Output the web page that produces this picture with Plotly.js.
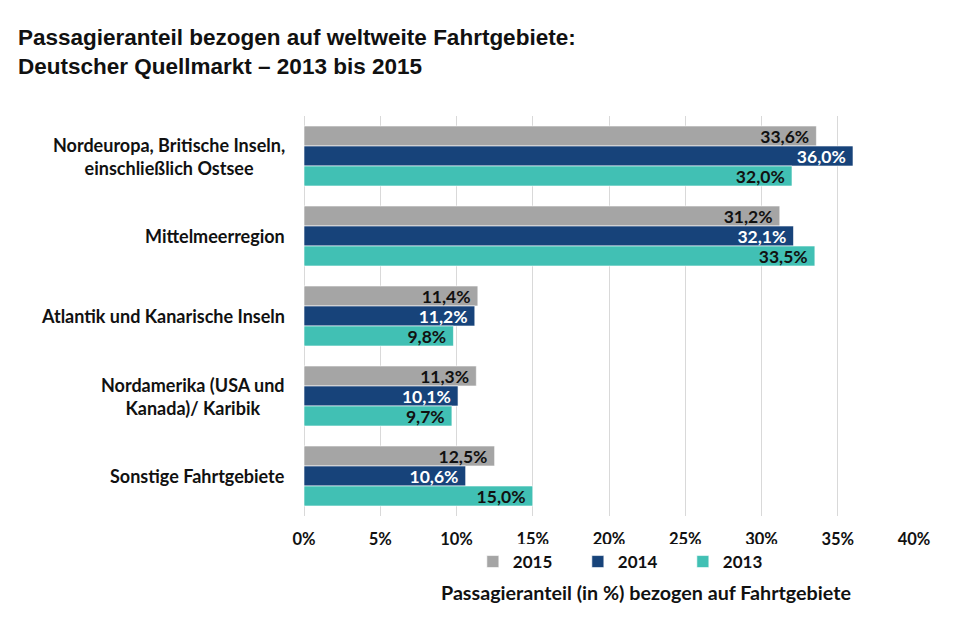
<!DOCTYPE html>
<html>
<head>
<meta charset="utf-8">
<script src="https://cdn.plot.ly/plotly-3.0.1.min.js"></script>
<style>html,body{margin:0;padding:0;background:#fff;}#chart{width:973px;height:628px;}</style>
</head>
<body>
<div id="chart"></div>
<script>
const categories = [
  "Nordeuropa, Britische Inseln,<br>einschließlich Ostsee",
  "Mittelmeerregion",
  "Atlantik und Kanarische Inseln",
  "Nordamerika (USA und<br>Kanada)/ Karibik",
  "Sonstige Fahrtgebiete"
];
const seriesNames = ["2015", "2014", "2013"];
const values2015 = [33.6, 31.2, 11.4, 11.3, 12.5];
const values2014 = [36.0, 32.1, 11.2, 10.1, 10.6];
const values2013 = [32.0, 33.5, 9.8, 9.7, 15.0];
const tickValues = [0, 5, 10, 15, 20, 25, 30, 35, 40];
const tickLabels = ["0%", "5%", "10%", "15%", "20%", "25%", "30%", "35%", "40%"];

const colors = ["#a5a5a5", "#17437a", "#41c0b4"];
const textColors = ["#111111", "#ffffff", "#111111"];
const fmt = v => v.toFixed(1).replace('.', ',') + '%\u00a0';
const labelFont = "Lato, 'Open Sans', sans-serif";

const allValues = [values2015, values2014, values2013];
const traces = allValues.map((vals, i) => ({
  type: 'bar',
  orientation: 'h',
  name: seriesNames[i],
  y: categories,
  x: vals,
  text: vals.map(fmt),
  textposition: 'inside',
  insidetextanchor: 'end',
  textangle: 0,
  constraintext: 'none',
  textfont: {family: labelFont, size: 17.5, color: textColors[i], weight: 'bold'},
  marker: {color: colors[i], line: {color: 'rgba(255,255,255,0.6)', width: 1}},
  hoverinfo: 'skip'
}));

// category labels: right-aligned block, lines centred (as in the original)
const catAnnotations = categories.map(c => ({
  text: c, xref: 'paper', yref: 'y', x: 0, y: c,
  xanchor: 'right', yanchor: 'middle', xshift: -17, align: 'center',
  showarrow: false,
  font: {family: labelFont, size: 18, color: '#111', weight: 'bold'}
}));

const layout = {
  width: 973, height: 628,
  margin: {l: 304, r: 59, t: 116, b: 112},
  paper_bgcolor: '#fff', plot_bgcolor: '#fff',
  barmode: 'group', bargap: 0.25, bargroupgap: 0,
  showlegend: true,
  title: {
    text: "Passagieranteil bezogen auf weltweite Fahrtgebiete:<br>Deutscher Quellmarkt – 2013 bis 2015",
    x: 18/973, xanchor: 'left', xref: 'container',
    y: 1 - 45/628, yanchor: 'top', yref: 'container',
    font: {family: "'Liberation Sans', Arial, sans-serif", size: 22.5, color: '#111', weight: 'bold'}
  },
  xaxis: {
    range: [0, 40], tickvals: tickValues, ticktext: tickLabels,
    showgrid: true, gridcolor: '#d9d9d9', gridwidth: 1,
    zeroline: true, zerolinecolor: '#d9d9d9', zerolinewidth: 1,
    ticks: 'outside', ticklen: 8, tickcolor: 'rgba(0,0,0,0)',
    tickfont: {family: labelFont, size: 16.5, color: '#111', weight: 'bold'},
    fixedrange: true
  },
  yaxis: {
    autorange: 'reversed',
    showticklabels: false, ticks: '',
    showgrid: false, showline: false,
    fixedrange: true
  },
  legend: {
    orientation: 'h', x: 0.535, xanchor: 'center', y: -0.115, yanchor: 'middle',
    font: {family: labelFont, size: 17, color: '#111', weight: 'bold'},
    itemwidth: 30, traceorder: 'normal',
    entrywidth: 60, entrywidthmode: 'pixels'
  },
  annotations: catAnnotations.concat([{
    text: "Passagieranteil (in %) bezogen auf Fahrtgebiete",
    xref: 'paper', yref: 'paper', x: 0.56, y: -0.19, xanchor: 'center', yanchor: 'middle',
    showarrow: false,
    font: {family: labelFont, size: 19.7, color: '#111', weight: 'bold'}
  }])
};

Plotly.newPlot('chart', traces, layout, {displayModeBar: false, staticPlot: true});
</script>
</body>
</html>
